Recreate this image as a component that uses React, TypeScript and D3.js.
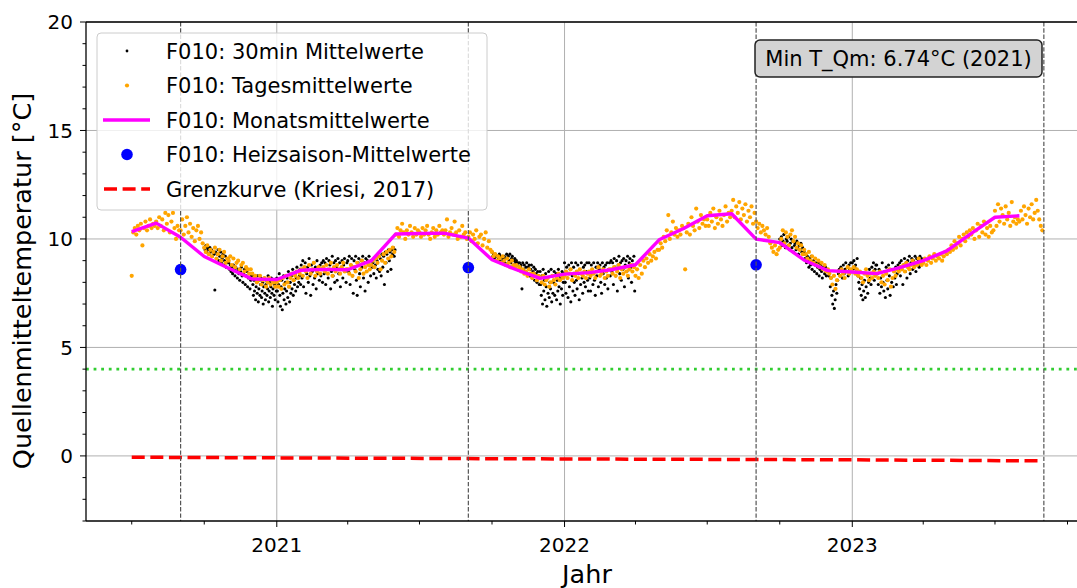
import React from "react";
import * as d3 from "d3";

// ---- Canvas & axes layout ----
const WIDTH = 1077;
const HEIGHT = 588;
const PLOT = { left: 86, top: 22, right: 1088, bottom: 521 };
const X_DOMAIN: [Date, Date] = [new Date(Date.UTC(2020, 4, 4)), new Date(Date.UTC(2023, 9, 27))];
const Y_DOMAIN: [number, number] = [-3, 20];
const FONT = "DejaVu Sans";

// ---- Ticks ----
const yMajorTicks = [0, 5, 10, 15, 20];
const xMajorYears = [2021, 2022, 2023];
const xMinorMonths = ["2020-07", "2020-10", "2021-04", "2021-07", "2021-10", "2022-04", "2022-07", "2022-10", "2023-04", "2023-07", "2023-10"];

// ---- Monatsmittelwerte (one value per month, starting 2020-07) ----
const monatsStart = "2020-07";
const monatsmittel = [
  10.34, 10.73, 10.08, 9.19, 8.65, 8.15,
  8.13, 8.56, 8.6, 8.58, 9.0, 10.23, 10.25, 10.27, 10.04, 9.04, 8.58, 8.18,
  8.38, 8.45, 8.58, 8.81, 9.96, 10.48, 11.07, 11.16, 9.99, 9.83, 9.02, 8.54,
  8.48, 8.4, 8.67, 9.0, 9.45, 10.26, 11.0, 11.07,
];

// ---- Heizsaison-Mittelwerte ----
const heizsaisonDaten = ["2020-09-01", "2021-09-01", "2022-09-01"];
const heizsaisonMittel = [8.59, 8.68, 8.81];

// ---- Season boundaries (dashed verticals) ----
const saisonGrenzen = ["2020-09-01", "2021-09-01", "2022-09-01", "2023-09-01"];

// ---- Grenzkurve (Kriesi, 2017) ----
const grenzDaten = ["2020-07-01", "2021-01-01", "2022-01-01", "2023-01-01", "2023-08-31"];
const grenzWerte = [-0.06, -0.09, -0.14, -0.18, -0.23];

// ---- Green reference level ----
const referenzLinie = 4;

// ---- Annotation ----
const minLabel = "Min T_Qm: 6.74°C (2021)";

// ---- Tagesmittelwerte: per month, values every ~2 days ----
type MonthRow = [string, number[]];
const tagesmittel2020: MonthRow[] = [
  ["2020-07", [8.3, 10.3, 10.5, 10.2, 10.6, 10.4, 10.7, 9.7, 10.5, 10.8, 10.4, 10.6, 10.9, 10.5, 10.7, 10.6]],
  ["2020-08", [10.8, 10.5, 11.0, 10.6, 10.9, 10.4, 11.2, 10.7, 11.1, 10.3, 10.8, 11.2, 10.5, 10.0, 10.6, 10.4]],
  ["2020-09", [10.4, 10.9, 10.2, 10.6, 11.0, 10.3, 10.7, 10.1, 10.5, 9.9, 10.4, 10.6, 10.0, 10.3, 9.8]],
  ["2020-10", [9.6, 9.4, 9.7, 9.3, 9.5, 9.2, 9.4, 9.6, 9.1, 9.3, 9.5, 9.0, 9.2, 9.4, 8.9, 9.1]],
  ["2020-11", [9.0, 9.2, 8.8, 9.1, 8.7, 8.9, 9.0, 8.6, 8.8, 8.9, 8.5, 8.7, 8.6, 8.4, 8.6]],
  ["2020-12", [8.4, 8.2, 8.3, 8.0, 8.1, 8.3, 7.9, 8.1, 8.2, 7.8, 8.0, 8.2, 7.9, 8.1, 8.0, 7.8]],
];
const tagesmittel2021: MonthRow[] = [
  ["2021-01", [8.0, 7.8, 8.1, 7.7, 8.2, 7.9, 8.3, 8.0, 7.8, 8.2, 8.4, 8.1, 8.3, 8.5, 8.2, 8.4]],
  ["2021-02", [8.6, 8.3, 8.7, 8.5, 8.2, 8.8, 8.4, 8.6, 8.9, 8.3, 8.5, 8.7, 8.4, 8.6]],
  ["2021-03", [8.7, 8.5, 8.8, 8.4, 8.6, 8.9, 8.3, 8.7, 8.5, 8.8, 8.6, 8.4, 8.7, 8.9, 8.5, 8.6]],
  ["2021-04", [8.6, 8.4, 8.8, 8.3, 8.7, 8.5, 8.9, 8.2, 8.6, 9.0, 8.4, 8.7, 8.5, 8.8, 8.6]],
  ["2021-05", [8.8, 9.0, 8.7, 9.1, 8.9, 9.2, 8.6, 9.0, 9.3, 8.9, 9.4, 9.1, 9.5, 9.2, 9.6, 9.4]],
  ["2021-06", [10.2, 10.5, 10.1, 10.4, 10.7, 10.3, 10.0, 10.4, 10.2, 10.6, 10.3, 10.1, 10.5, 10.2, 10.4]],
  ["2021-07", [10.3, 10.1, 10.5, 10.2, 10.4, 10.6, 10.2, 10.0, 10.3, 10.5, 10.1, 10.4, 10.2, 10.6, 10.3, 10.4]],
  ["2021-08", [10.2, 10.4, 10.9, 10.1, 10.3, 10.5, 10.2, 10.8, 10.3, 10.0, 10.4, 10.1, 10.6, 10.2, 10.3, 10.0]],
  ["2021-09", [10.1, 10.3, 9.9, 10.2, 10.0, 10.4, 9.8, 10.1, 10.2, 9.7, 10.0, 10.3, 9.6, 9.9, 9.5]],
  ["2021-10", [9.4, 9.2, 9.3, 9.0, 9.2, 9.1, 8.9, 9.2, 9.0, 8.8, 9.1, 8.9, 8.7, 9.0, 8.8, 8.7]],
  ["2021-11", [8.8, 8.6, 8.7, 8.5, 8.6, 8.4, 8.5, 8.3, 8.6, 8.4, 8.2, 8.4, 8.3, 8.1, 8.3]],
  ["2021-12", [8.2, 8.0, 8.3, 7.9, 8.1, 8.2, 7.8, 8.0, 8.3, 8.1, 7.9, 8.2, 8.4, 8.1, 8.3, 8.2]],
];
const tagesmittel2022: MonthRow[] = [
  ["2022-01", [8.3, 8.5, 8.2, 8.4, 8.6, 8.1, 8.4, 8.3, 8.5, 8.2, 8.6, 8.4, 8.3, 8.5, 8.2, 8.4]],
  ["2022-02", [8.5, 8.3, 8.6, 8.4, 8.2, 8.5, 8.7, 8.3, 8.4, 8.6, 8.2, 8.5, 8.3, 8.6]],
  ["2022-03", [8.6, 8.4, 8.7, 8.3, 8.5, 8.8, 8.2, 8.6, 8.4, 8.7, 8.5, 8.3, 8.6, 8.8, 8.5, 8.7]],
  ["2022-04", [8.3, 8.6, 8.2, 8.8, 8.4, 9.0, 8.7, 9.1, 8.9, 9.3, 9.0, 9.2, 9.4, 9.1, 9.5]],
  ["2022-05", [9.5, 9.8, 9.6, 10.1, 9.9, 10.4, 11.1, 10.0, 10.3, 10.8, 10.2, 10.5, 10.1, 10.4, 10.2, 10.6]],
  ["2022-06", [10.5, 8.6, 10.3, 10.7, 10.2, 11.0, 10.6, 10.4, 11.4, 10.8, 10.5, 11.1, 10.7, 10.9, 10.6]],
  ["2022-07", [10.9, 10.6, 11.2, 10.8, 11.4, 10.5, 11.0, 10.7, 11.3, 10.9, 10.6, 11.1, 11.5, 10.8, 11.2, 11.0]],
  ["2022-08", [11.3, 11.8, 11.0, 11.5, 11.2, 11.7, 10.9, 11.4, 11.1, 11.6, 10.8, 11.3, 11.0, 11.5, 10.7, 11.2]],
  ["2022-09", [10.8, 10.5, 10.7, 10.3, 10.6, 10.4, 10.2, 10.5, 10.1, 9.8, 9.6, 9.4, 9.7, 9.3, 9.5]],
  ["2022-10", [9.6, 10.0, 10.4, 9.8, 10.3, 10.1, 9.7, 10.2, 10.4, 9.9, 10.1, 9.6, 9.8, 9.5, 9.7, 9.3]],
  ["2022-11", [9.5, 9.3, 9.1, 9.4, 9.0, 9.2, 8.9, 9.1, 8.8, 9.0, 8.7, 8.9, 8.6, 8.8, 8.5]],
  ["2022-12", [8.6, 8.4, 8.2, 7.9, 8.3, 7.7, 8.1, 8.5, 8.3, 8.6, 8.4, 8.2, 8.5, 8.7, 8.4, 8.6]],
];
const tagesmittel2023: MonthRow[] = [
  ["2023-01", [8.5, 8.7, 8.4, 8.6, 8.3, 8.5, 8.2, 8.0, 8.4, 8.6, 8.3, 8.1, 8.4, 8.2, 8.5, 8.3]],
  ["2023-02", [8.4, 8.2, 8.5, 8.0, 8.3, 7.9, 8.4, 8.1, 8.6, 7.8, 8.2, 8.5, 8.3, 8.6]],
  ["2023-03", [8.5, 8.7, 8.6, 8.8, 8.5, 8.9, 8.7, 8.6, 8.8, 9.0, 8.7, 8.9, 8.8, 9.1, 8.9, 8.8]],
  ["2023-04", [8.9, 9.1, 8.8, 9.0, 9.2, 8.9, 9.1, 9.3, 9.0, 9.2, 9.1, 9.3, 9.0, 9.2, 9.4]],
  ["2023-05", [9.3, 9.5, 9.4, 9.7, 9.5, 9.9, 9.6, 9.8, 10.1, 9.7, 10.0, 10.2, 9.9, 10.3, 10.1, 10.4]],
  ["2023-06", [10.2, 10.5, 10.0, 10.4, 10.7, 10.1, 10.6, 10.3, 10.8, 10.2, 10.5, 10.1, 10.6, 10.3, 10.4]],
  ["2023-07", [11.3, 10.6, 11.6, 10.8, 11.4, 11.1, 10.7, 11.5, 10.9, 11.2, 10.6, 11.7, 10.8, 11.0, 10.7, 10.9]],
  ["2023-08", [10.8, 11.3, 10.9, 11.5, 11.1, 10.7, 11.4, 11.0, 11.6, 10.9, 11.2, 11.8, 11.3, 10.9, 10.6, 10.4]],
];

// ---- 30min-Mittelwerte (winter months, sampled through each month) ----
const halbstundenWinter1: MonthRow[] = [
  ["2020-10", [9.6, 9.5, 9.7, 9.4, 9.6, 9.5, 9.3, 9.6, 9.4, 9.5, 9.2, 9.4, 9.3, 7.65, 9.4, 9.1, 9.3, 9.5, 9.0, 9.2, 9.4, 8.9, 9.1, 9.3, 8.8, 9.0, 9.2, 8.7, 8.9, 9.1]],
  ["2020-11", [8.9, 8.6, 8.8, 8.5, 8.7, 8.4, 8.8, 8.6, 8.3, 8.7, 8.5, 8.2, 8.6, 8.4, 8.1, 8.5, 8.7, 8.3, 8.0, 8.4, 8.6, 7.9, 8.3, 8.5, 7.8, 8.2, 8.4, 7.7, 8.1, 8.3]],
  ["2020-12", [8.3, 7.9, 7.4, 8.1, 7.6, 8.2, 7.2, 7.8, 8.0, 7.5, 8.3, 7.1, 7.7, 8.1, 7.4, 7.9, 8.2, 7.3, 7.6, 8.0, 7.0, 7.8, 8.2, 7.5, 7.2, 7.9, 8.1, 7.4, 7.7, 8.3, 7.1, 7.6, 8.0, 7.3, 7.8, 8.2, 7.5, 6.9, 7.7, 8.1, 7.4, 7.9, 7.2, 8.0, 7.6]],
  ["2021-01", [8.2, 7.6, 7.1, 7.9, 8.4, 7.4, 6.9, 7.8, 8.1, 6.74, 7.5, 8.3, 7.2, 7.7, 8.0, 7.0, 7.6, 8.2, 7.3, 8.5, 7.8, 7.1, 8.0, 7.5, 8.3, 7.7, 8.6, 7.4, 8.1, 7.9, 8.4, 7.6, 8.2, 8.7, 7.8, 8.5, 8.0, 8.3, 8.6, 7.9]],
  ["2021-02", [8.8, 8.2, 9.0, 7.8, 8.6, 8.9, 7.5, 8.4, 8.7, 8.0, 9.1, 8.3, 7.4, 8.8, 8.5, 7.9, 8.9, 8.2, 8.7, 7.7, 9.0, 8.4, 8.6, 8.1, 8.8, 8.3, 8.9, 8.0]],
  ["2021-03", [9.0, 8.4, 8.9, 7.9, 9.1, 8.6, 8.2, 9.0, 8.8, 7.7, 8.5, 9.2, 8.3, 8.9, 8.0, 9.0, 8.7, 8.1, 9.1, 8.4, 8.9, 7.8, 8.6, 9.0, 8.2, 8.8, 9.1, 8.5, 8.0, 8.9]],
  ["2021-04", [9.0, 8.5, 9.2, 7.9, 8.8, 9.1, 8.3, 7.5, 9.0, 8.6, 9.2, 8.1, 7.4, 8.9, 9.1, 8.4, 7.8, 9.0, 8.7, 9.2, 8.2, 8.9, 7.6, 9.1, 8.5, 9.0, 8.0, 9.2, 8.8, 8.3]],
  ["2021-05", [9.0, 8.7, 8.9, 8.4, 9.1, 8.8, 8.2, 9.0, 8.6, 9.2, 8.5, 9.1, 8.3, 9.3, 8.7, 9.2, 7.9, 9.4, 8.9, 9.3, 8.5, 9.5, 9.0, 9.4, 8.6, 9.5, 9.3, 9.6, 9.2, 9.5]],
];
const halbstundenWinter2: MonthRow[] = [
  ["2021-10", [9.4, 9.2, 9.3, 9.1, 9.3, 9.2, 9.0, 9.2, 9.1, 9.3, 9.0, 9.2, 8.9, 9.1, 9.0, 9.2, 8.9, 9.1, 9.3, 8.8, 9.2, 9.0, 9.3, 8.9, 9.1, 9.2, 8.8, 9.0, 9.1, 8.9]],
  ["2021-11", [9.0, 8.8, 8.9, 8.6, 8.9, 8.7, 8.8, 7.7, 8.9, 8.6, 8.8, 8.5, 8.7, 8.9, 8.4, 8.7, 8.8, 8.3, 8.6, 8.8, 8.2, 8.5, 8.7, 8.1, 8.6, 8.4, 8.0, 8.5, 8.3, 7.9]],
  ["2021-12", [8.5, 7.9, 7.4, 8.3, 7.0, 8.6, 7.6, 8.1, 7.2, 8.4, 7.8, 6.9, 8.2, 7.5, 8.5, 7.3, 8.0, 7.7, 8.6, 7.1, 8.3, 7.5, 8.0, 8.5, 7.4, 7.9, 8.4, 7.2, 8.1, 7.6, 8.6, 7.8, 8.3, 7.0, 8.2, 7.7, 8.5, 7.4, 8.0, 8.4]],
  ["2022-01", [8.9, 8.0, 7.5, 8.7, 8.2, 7.3, 8.8, 7.8, 8.6, 7.1, 8.9, 8.3, 7.6, 8.7, 8.0, 7.4, 8.9, 8.1, 7.7, 8.8, 8.4, 7.2, 8.6, 7.9, 8.9, 8.2, 7.5, 8.7, 8.0, 8.8, 7.8, 8.5, 8.9, 8.1, 7.6]],
  ["2022-02", [8.9, 8.2, 7.6, 8.8, 8.4, 7.9, 8.9, 8.1, 7.4, 8.7, 8.3, 8.9, 7.8, 8.6, 8.8, 8.0, 7.5, 8.9, 8.4, 8.7, 7.9, 8.8, 8.2, 8.9, 7.7, 8.6, 8.9, 8.3]],
  ["2022-03", [9.0, 8.5, 8.9, 7.9, 9.1, 8.7, 8.3, 9.0, 7.6, 8.8, 9.2, 8.4, 8.9, 8.1, 9.0, 8.6, 9.1, 7.8, 8.8, 9.0, 8.5, 9.2, 8.2, 8.9, 9.1, 8.7, 8.0, 9.0, 8.8, 9.2, 7.6]],
];
const halbstundenWinter3: MonthRow[] = [
  ["2022-10", [10.0, 9.8, 10.1, 9.7, 9.9, 10.2, 9.8, 9.6, 10.0, 9.9, 9.7, 10.1, 9.5, 9.8, 10.0, 9.6, 9.9, 9.4, 9.7, 9.8, 9.5, 9.9, 9.6, 9.3, 9.7, 9.5, 9.8, 9.4, 9.6, 9.3]],
  ["2022-11", [9.4, 9.1, 9.3, 8.9, 9.2, 9.0, 8.7, 9.1, 8.8, 9.2, 8.6, 8.9, 9.0, 8.5, 8.8, 8.9, 8.4, 8.7, 8.9, 8.3, 8.6, 8.8, 8.5, 8.2, 8.7, 8.6, 8.4, 8.7, 8.3, 8.5]],
  ["2022-12", [8.6, 8.3, 8.5, 7.8, 8.2, 7.4, 7.0, 7.6, 6.8, 7.2, 7.9, 7.5, 8.1, 8.4, 8.6, 8.3, 8.7, 8.5, 8.2, 8.8, 8.4, 8.6, 8.9, 8.5, 8.7, 8.3, 8.8, 8.6, 8.9, 8.5]],
  ["2023-01", [8.9, 8.6, 9.0, 8.7, 8.8, 8.5, 9.1, 8.3, 8.0, 7.7, 8.2, 7.4, 7.9, 7.2, 7.6, 8.1, 7.3, 7.8, 8.4, 7.5, 8.0, 8.6, 8.2, 7.9, 8.7, 8.4, 8.9, 8.1, 8.6, 8.8]],
  ["2023-02", [8.8, 8.4, 7.9, 8.6, 7.5, 8.2, 7.8, 8.9, 8.0, 7.6, 8.5, 7.3, 8.7, 8.1, 7.7, 8.8, 8.3, 7.4, 8.6, 8.0, 8.9, 7.8, 8.5, 8.2, 8.7, 7.9, 8.4, 8.8]],
  ["2023-03", [8.6, 8.9, 8.3, 9.0, 8.7, 7.9, 8.8, 9.1, 8.5, 8.9, 8.2, 9.0, 8.7, 9.2, 8.4, 8.9, 9.1, 8.6, 9.0, 8.8, 9.2, 8.5, 9.1, 8.9, 9.0, 8.7, 9.2, 8.8, 9.1, 8.9]],
];

// ---- helpers ----
const DAY = 86400000;
const parseDay = (s: string) => new Date(s + "T00:00:00Z");
const monthStartMs = (m: string) => {
  const [yy, mm] = m.split("-").map(Number);
  return Date.UTC(yy, mm - 1, 1);
};
const monthDays = (m: string) => {
  const [yy, mm] = m.split("-").map(Number);
  return new Date(Date.UTC(yy, mm, 0)).getUTCDate();
};
type Pt = { t: Date; v: number };
const rowsToPoints = (rows: MonthRow[]): Pt[] =>
  rows.flatMap(([m, vals]) => {
    const s = monthStartMs(m);
    const step = monthDays(m) / vals.length;
    return vals.map((v, j) => ({ t: new Date(s + j * step * DAY), v }));
  });
const addMonths = (m: string, k: number) => {
  const [yy, mm] = m.split("-").map(Number);
  return new Date(Date.UTC(yy, mm - 1 + k, 1));
};

export default function App() {
  const x = d3.scaleUtc().domain(X_DOMAIN).range([PLOT.left, PLOT.right]);
  const y = d3.scaleLinear().domain(Y_DOMAIN).range([PLOT.bottom, PLOT.top]);

  const orange = rowsToPoints([...tagesmittel2020, ...tagesmittel2021, ...tagesmittel2022, ...tagesmittel2023]);
  const black = rowsToPoints([...halbstundenWinter1, ...halbstundenWinter2, ...halbstundenWinter3]);
  const monthly: Pt[] = monatsmittel.map((v, i) => ({ t: addMonths(monatsStart, i), v }));
  const grenz: Pt[] = grenzDaten.map((d, i) => ({ t: parseDay(d), v: grenzWerte[i] }));
  const heiz: Pt[] = heizsaisonDaten.map((d, i) => ({ t: parseDay(d), v: heizsaisonMittel[i] }));

  const line = d3
    .line<Pt>()
    .x((d) => x(d.t))
    .y((d) => y(d.v));

  const yMinor = d3.range(-3, 21).filter((v) => v % 5 !== 0);
  const xMajor = xMajorYears.map((yy) => new Date(Date.UTC(yy, 0, 1)));
  const xMinor = xMinorMonths.map((m) => new Date(monthStartMs(m)));

  const legendRows = [
    "F010: 30min Mittelwerte",
    "F010: Tagesmittelwerte",
    "F010: Monatsmittelwerte",
    "F010: Heizsaison-Mittelwerte",
    "Grenzkurve (Kriesi, 2017)",
  ];
  const legendY0 = 51;
  const legendDy = 34.5;

  return (
    <svg
      width={WIDTH}
      height={HEIGHT}
      style={{ position: "absolute", left: 0, top: 0, background: "#fff" }}
      fontFamily={FONT}
    >
      <defs>
        <clipPath id="plot-clip">
          <rect x={PLOT.left} y={PLOT.top} width={PLOT.right - PLOT.left} height={PLOT.bottom - PLOT.top} />
        </clipPath>
      </defs>
      <rect x={0} y={0} width={WIDTH} height={HEIGHT} fill="#fff" />

      {/* grid */}
      <g stroke="#b0b0b0" strokeWidth={1}>
        {yMajorTicks.map((v) => (
          <line key={"gy" + v} x1={PLOT.left} x2={PLOT.right} y1={y(v)} y2={y(v)} />
        ))}
        {xMajor.map((d, i) => (
          <line key={"gx" + i} x1={x(d)} x2={x(d)} y1={PLOT.top} y2={PLOT.bottom} />
        ))}
      </g>

      <g clipPath="url(#plot-clip)">
        {/* 30min values */}
        <g fill="#000">
          {black.map((p, i) => (
            <circle key={"b" + i} cx={x(p.t)} cy={y(p.v)} r={1.55} />
          ))}
        </g>
        {/* daily means */}
        <g fill="#ffa500">
          {orange.map((p, i) => (
            <circle key={"o" + i} cx={x(p.t)} cy={y(p.v)} r={2.1} />
          ))}
        </g>
        {/* monthly means */}
        <path d={line(monthly) ?? ""} fill="none" stroke="#ff00ff" strokeWidth={3.4} strokeLinejoin="round" />
        {/* heating season means */}
        {heiz.map((p, i) => (
          <circle key={"h" + i} cx={x(p.t)} cy={y(p.v)} r={5.8} fill="#0000ff" />
        ))}
        {/* limit curve */}
        <path d={line(grenz) ?? ""} fill="none" stroke="#ff0000" strokeWidth={3.5} strokeDasharray="13 5.6" />
        {/* reference level */}
        <line
          x1={PLOT.left}
          x2={PLOT.right}
          y1={y(referenzLinie)}
          y2={y(referenzLinie)}
          stroke="#32cd32"
          strokeWidth={2.8}
          strokeDasharray="2.8 4.8"
        />
        {/* season boundaries */}
        {saisonGrenzen.map((d, i) => (
          <line
            key={"s" + i}
            x1={x(parseDay(d))}
            x2={x(parseDay(d))}
            y1={PLOT.top}
            y2={PLOT.bottom}
            stroke="#555"
            strokeWidth={1.2}
            strokeDasharray="4.4 1.9"
          />
        ))}
      </g>

      {/* spines */}
      <g stroke="#000" strokeWidth={1.3} fill="none">
        <line x1={PLOT.left} x2={PLOT.left} y1={PLOT.top} y2={PLOT.bottom} />
        <line x1={PLOT.left} x2={PLOT.right} y1={PLOT.bottom} y2={PLOT.bottom} />
        <line x1={PLOT.left} x2={PLOT.right} y1={PLOT.top} y2={PLOT.top} />
        <line x1={PLOT.right} x2={PLOT.right} y1={PLOT.top} y2={PLOT.bottom} />
      </g>

      {/* ticks */}
      <g stroke="#000" strokeWidth={1}>
        {yMajorTicks.map((v) => (
          <line key={"ty" + v} x1={PLOT.left - 6} x2={PLOT.left} y1={y(v)} y2={y(v)} />
        ))}
        {yMinor.map((v) => (
          <line key={"my" + v} x1={PLOT.left - 3.5} x2={PLOT.left} y1={y(v)} y2={y(v)} />
        ))}
        {xMajor.map((d, i) => (
          <line key={"tx" + i} x1={x(d)} x2={x(d)} y1={PLOT.bottom} y2={PLOT.bottom + 6} />
        ))}
        {xMinor.map((d, i) => (
          <line key={"mx" + i} x1={x(d)} x2={x(d)} y1={PLOT.bottom} y2={PLOT.bottom + 3.5} />
        ))}
      </g>
      <g fontSize={20} fill="#000">
        {yMajorTicks.map((v) => (
          <text key={"ly" + v} x={PLOT.left - 13} y={y(v)} dy="0.36em" textAnchor="end">
            {v}
          </text>
        ))}
        {xMajor.map((d, i) => (
          <text key={"lx" + i} x={x(d)} y={552} textAnchor="middle">
            {d.getUTCFullYear()}
          </text>
        ))}
      </g>

      {/* axis labels */}
      <text x={(PLOT.left + PLOT.right) / 2} y={583} textAnchor="middle" fontSize={25.5}>
        Jahr
      </text>
      <text transform="translate(31, 281) rotate(-90)" textAnchor="middle" fontSize={25.5}>
        Quellenmitteltemperatur [°C]
      </text>

      {/* legend */}
      <g>
        <rect x={97} y={33} width={390} height={177} rx={4} fill="#fff" fillOpacity={0.8} stroke="#cccccc" strokeWidth={1} />
        <circle cx={127} cy={legendY0} r={1.4} fill="#000" />
        <circle cx={127} cy={legendY0 + legendDy} r={2.1} fill="#ffa500" />
        <line x1={103} x2={150} y1={legendY0 + 2 * legendDy} y2={legendY0 + 2 * legendDy} stroke="#ff00ff" strokeWidth={3.4} />
        <circle cx={127} cy={legendY0 + 3 * legendDy} r={5.8} fill="#0000ff" />
        <line
          x1={104}
          x2={150}
          y1={legendY0 + 4 * legendDy}
          y2={legendY0 + 4 * legendDy}
          stroke="#ff0000"
          strokeWidth={3.5}
          strokeDasharray="13 5.6"
        />
        {legendRows.map((t, i) => (
          <text key={"lg" + i} x={166} y={legendY0 + i * legendDy} dy="0.36em" fontSize={21}>
            {t}
          </text>
        ))}
      </g>

      {/* annotation */}
      <g>
        <rect x={755} y={40} width={287} height={37} rx={5} fill="#d3d3d3" stroke="#222" strokeWidth={1.5} />
        <text x={898.5} y={58.5} dy="0.36em" textAnchor="middle" fontSize={21}>
          {minLabel}
        </text>
      </g>
    </svg>
  );
}
